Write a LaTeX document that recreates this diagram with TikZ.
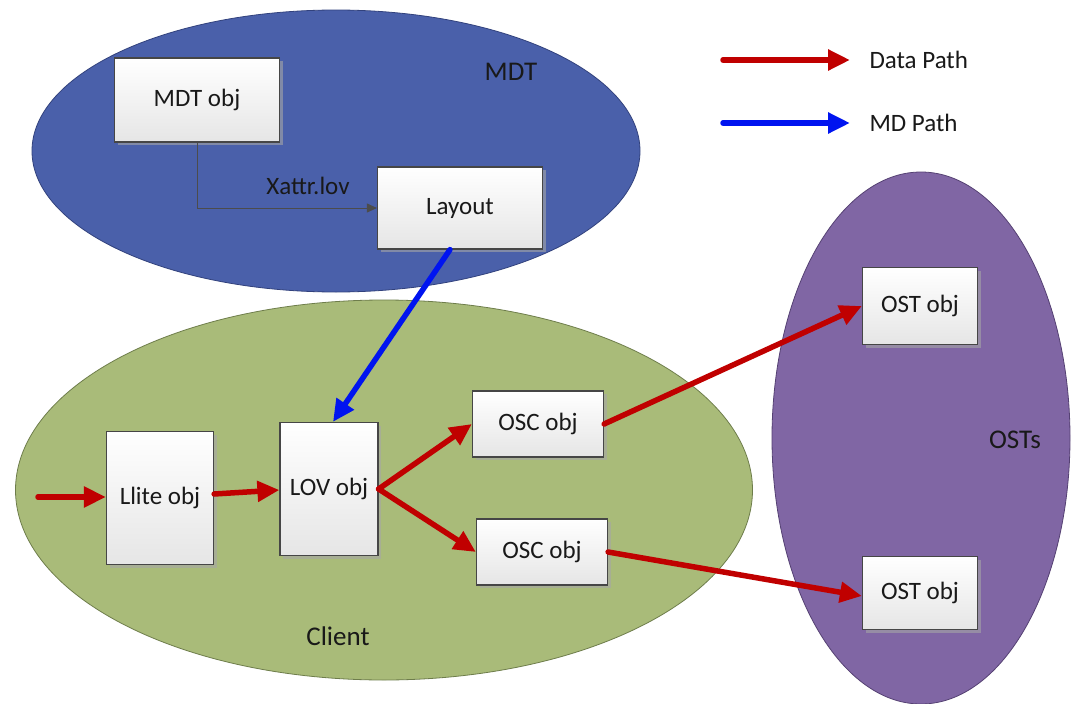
\documentclass[tikz,border=0pt]{standalone}
\usepackage{fontspec}
\setmainfont{Carlito}
\usetikzlibrary{shapes.geometric,arrows.meta,shadows}
\definecolor{mdtblue}{RGB}{74,96,170}
\definecolor{mdtedge}{RGB}{50,66,125}
\definecolor{clientgreen}{RGB}{169,187,121}
\definecolor{clientedge}{RGB}{110,125,75}
\definecolor{ostpurple}{RGB}{128,102,164}
\definecolor{ostedge}{RGB}{85,65,115}
\definecolor{datared}{RGB}{192,0,0}
\definecolor{mdpath}{RGB}{0,20,240}
\definecolor{boxedge}{RGB}{70,70,70}
\definecolor{txt}{RGB}{25,25,25}
\tikzset{
  region/.style={ellipse, draw, line width=0.8pt, inner sep=0pt},
  objbox/.style={draw=boxedge, line width=1.2pt, top color=white, bottom color=black!10,
    drop shadow={shadow xshift=3pt, shadow yshift=-3pt, fill=black!35, opacity=0.6},
    inner sep=0pt, font=\fontsize{25}{30}\selectfont, text=txt},
  lbl/.style={font=\fontsize{27}{32}\selectfont, text=txt},
  datarrow/.style={draw=datared, line width=5.5pt, line cap=round,
    -{Triangle[length=22pt,width=20pt]}},
  mdarrow/.style={draw=mdpath, line width=5.5pt, line cap=round,
    -{Triangle[length=22pt,width=20pt]}},
  xattrarrow/.style={draw=black!70, line width=1pt, -{Triangle[length=10pt,width=9pt]}},
}
\begin{document}
\begin{tikzpicture}[x=1pt,y=-1pt]
\useasboundingbox (0,0) rectangle (1071,704);
\fill[white] (0,0) rectangle (1071,704);

% regions
\node[region, fill=mdtblue, draw=mdtedge, minimum width=608pt, minimum height=282pt] (mdt) at (336,151) {};
\node[region, fill=clientgreen, draw=clientedge, minimum width=737pt, minimum height=380pt] (client) at (384,490) {};
\node[region, fill=ostpurple, draw=ostedge, minimum width=298pt, minimum height=532pt] (osts) at (921,438) {};

\node[lbl] (mdtlbl) at (511,72) {MDT};
\node[lbl] (clientlbl) at (338,636) {Client};
\node[lbl] (ostslbl) at (1015,440) {OSTs};

% objects
\node[objbox, minimum width=165pt, minimum height=84pt] (mdtobj) at (197,100) {MDT obj};
\node[objbox, minimum width=165pt, minimum height=82pt] (layout) at (460,208) {Layout};
\node[objbox, minimum width=107pt, minimum height=133pt] (llite) at (160,498) {Llite obj};
\node[objbox, minimum width=98pt, minimum height=133pt] (lov) at (329,489) {LOV obj};
\node[objbox, minimum width=131pt, minimum height=66pt] (osc1) at (538,424) {OSC obj};
\node[objbox, minimum width=131pt, minimum height=66pt] (osc2) at (542,552) {OSC obj};
\node[objbox, minimum width=115pt, minimum height=77pt] (ost1) at (920,306) {OST obj};
\node[objbox, minimum width=115pt, minimum height=73pt] (ost2) at (920,593) {OST obj};

% metadata link inside the MDT
\coordinate (bend) at (mdtobj.south |- layout.west);
\draw[xattrarrow] (mdtobj.south) -- (bend) -- (layout.west);
\node[font=\fontsize{25}{30}\selectfont, text=txt] (xattr) at (308,186) {Xattr.lov};

% layout fetch
\coordinate (lsrc) at ([xshift=-10pt]layout.south);
\draw[mdarrow] (lsrc) -- ([xshift=4pt]lov.north);

% data path
\coordinate (entry) at (38,497);
\draw[datarrow] (entry) -- (llite.west |- entry);
\draw[datarrow] ([yshift=4pt]llite.east) -- ([yshift=-1pt]lov.west);
\draw[datarrow] (lov.east) -- (osc1.west);
\draw[datarrow] (lov.east) -- (osc2.west);
\draw[datarrow] (osc1.east) -- (ost1.west);
\draw[datarrow] (osc2.east) -- ([yshift=-3pt]ost2.west);

% legend
\coordinate (l1a) at (723,60);
\coordinate (l1b) at (850,60);
\coordinate (l2a) at (723,123);
\coordinate (l2b) at (850,123);
\draw[datarrow] (l1a) -- (l1b);
\draw[mdarrow] (l2a) -- (l2b);
\node[anchor=west, font=\fontsize{25}{30}\selectfont, text=txt] (leg1) at (866,60) {Data Path};
\node[anchor=west, font=\fontsize{25}{30}\selectfont, text=txt] (leg2) at (866,123) {MD Path};
\end{tikzpicture}
\end{document}
